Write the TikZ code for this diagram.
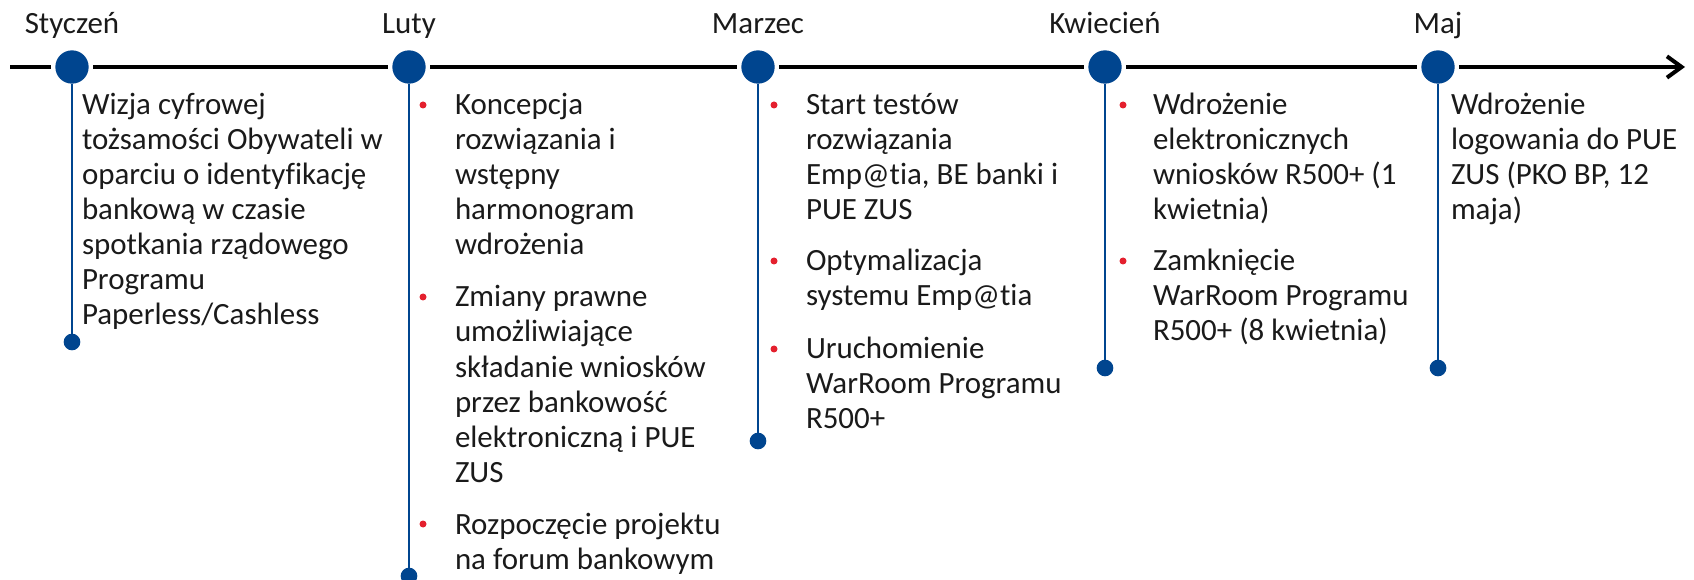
\documentclass[tikz,border=0pt]{standalone}
\usepackage{fontspec}
\setmainfont{Carlito}[Ligatures=NoCommon]
\usetikzlibrary{arrows.meta}
\definecolor{pkoblue}{HTML}{00458F}
\definecolor{pkored}{HTML}{E4202E}
\definecolor{txt}{HTML}{1A1A1A}
\begin{document}
\begin{tikzpicture}[x=0.75pt,y=-0.75pt,
  every node/.style={inner sep=0pt, outer sep=0pt},
  txtblock/.style={anchor=north west, yshift=22pt, align=left, text=txt, font=\fontsize{23.2}{26.25}\selectfont},
  monthlabel/.style={anchor=base, text=txt, font=\fontsize{23.2}{26.25}\selectfont},
  bigdot/.style={circle, fill=pkoblue, minimum size=25pt},
  enddot/.style={circle, fill=pkoblue, minimum size=12.5pt},
  stem/.style={draw=pkoblue, line width=1.5pt},
  bulletdot/.style={circle, fill=pkored, minimum size=5.25pt},
  axis/.style={line width=3pt, -{Straight Barb[length=11pt,width=16pt]}},
]
\useasboundingbox (0,0) rectangle (1694,580);
\coordinate (axisstart) at (10,67);
\coordinate (axisend) at (1685,67);
\draw[axis] (axisstart) -- (axisend);
\foreach \x in {72,409,758,1105,1438} \fill[white] (\x,67) circle[radius=15.75pt];

% months
\node[bigdot] (jan) at (72,67) {};
\node[bigdot] (feb) at (409,67) {};
\node[bigdot] (mar) at (758,67) {};
\node[bigdot] (apr) at (1105,67) {};
\node[bigdot] (may) at (1438,67) {};

\node[monthlabel] (janlab) at (72,34) {Styczeń};
\node[monthlabel] (feblab) at (409,34) {Luty};
\node[monthlabel] (marlab) at (758,34) {Marzec};
\node[monthlabel] (aprlab) at (1105,34) {Kwiecień};
\node[monthlabel] (maylab) at (1438,34) {Maj};

% stems
\node[enddot] (janend) at (72,342) {};
\node[enddot] (febend) at (409,576) {};
\node[enddot] (marend) at (758,441) {};
\node[enddot] (aprend) at (1105,368) {};
\node[enddot] (mayend) at (1438,368) {};
\draw[stem] (jan) -- (janend.center);
\draw[stem] (feb) -- (febend.center);
\draw[stem] (mar) -- (marend.center);
\draw[stem] (apr) -- (aprend.center);
\draw[stem] (may) -- (mayend.center);

% Styczen
\node[txtblock] (jant) at (82,115) {\rule{0pt}{22pt}Wizja cyfrowej\\tożsamości Obywateli w\\oparciu o identyfikację\\bankową w czasie\\spotkania rządowego\\Programu\\Paperless/Cashless};

% Luty
\node[bulletdot] (febb1) at (423,105) {};
\node[txtblock] (febt1) at (455,115) {\rule{0pt}{22pt}Koncepcja\\rozwiązania i\\wstępny\\harmonogram\\wdrożenia};
\node[bulletdot] (febb2) at (423,297) {};
\node[txtblock] (febt2) at (455,307) {\rule{0pt}{22pt}Zmiany prawne\\umożliwiające\\składanie wniosków\\przez bankowość\\elektroniczną i PUE\\ZUS};
\node[bulletdot] (febb3) at (423,524) {};
\node[txtblock] (febt3) at (455,534) {\rule{0pt}{22pt}Rozpoczęcie projektu\\na forum bankowym};

% Marzec
\node[bulletdot] (marb1) at (774,105) {};
\node[txtblock] (mart1) at (806,115) {\rule{0pt}{22pt}Start testów\\rozwiązania\\Emp@tia, BE banki i\\PUE ZUS};
\node[bulletdot] (marb2) at (774,261) {};
\node[txtblock] (mart2) at (806,271) {\rule{0pt}{22pt}Optymalizacja\\systemu Emp@tia};
\node[bulletdot] (marb3) at (774,349) {};
\node[txtblock] (mart3) at (806,359) {\rule{0pt}{22pt}Uruchomienie\\WarRoom Programu\\R500+};

% Kwiecien
\node[bulletdot] (aprb1) at (1123,105) {};
\node[txtblock] (aprt1) at (1153,115) {\rule{0pt}{22pt}Wdrożenie\\elektronicznych\\wniosków R500+ (1\\kwietnia)};
\node[bulletdot] (aprb2) at (1123,261) {};
\node[txtblock] (aprt2) at (1153,271) {\rule{0pt}{22pt}Zamknięcie\\WarRoom Programu\\R500+ (8 kwietnia)};

% Maj
\node[txtblock] (mayt) at (1451,115) {\rule{0pt}{22pt}Wdrożenie\\logowania do PUE\\ZUS (PKO BP, 12\\maja)};
\end{tikzpicture}
\end{document}
